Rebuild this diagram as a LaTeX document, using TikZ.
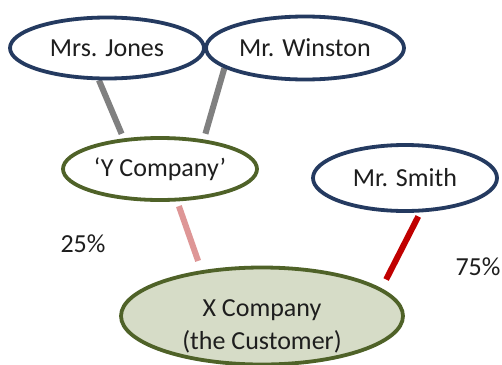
\documentclass[tikz,border=0pt]{standalone}
\usepackage{fontspec}
\setmainfont{Carlito}
\usetikzlibrary{shapes.geometric,backgrounds}
\definecolor{navy}{RGB}{36,58,96}
\definecolor{olive}{RGB}{79,98,40}
\definecolor{sage}{RGB}{214,220,199}
\definecolor{rosy}{RGB}{222,150,150}
\definecolor{darkred}{RGB}{192,0,0}
\definecolor{linegray}{RGB}{128,128,128}
\definecolor{txt}{RGB}{30,30,30}
\begin{document}
\begin{tikzpicture}[x=1pt,y=-1pt,
  bigfont/.style={font=\fontsize{26}{33}\selectfont},
  person/.style={ellipse,draw=navy,line width=3.8pt,fill=white,inner sep=0pt,text=txt,bigfont},
  company/.style={ellipse,draw=olive,line width=3.8pt,fill=white,inner sep=0pt,text=txt,bigfont},
  link/.style={line width=6pt},
  pct/.style={text=txt,bigfont,inner sep=0pt}]
\useasboundingbox (0,0) rectangle (502,364);
\node[person,minimum width=194pt,minimum height=61pt] (jones) at (107,48) {Mrs. Jones};
\node[person,minimum width=198pt,minimum height=63pt] (winston) at (305,48) {Mr. Winston};
\node[company,minimum width=194pt,minimum height=62pt] (y) at (160,169) {‘Y Company’};
\node[person,minimum width=184pt,minimum height=66pt] (smith) at (405,178) {Mr. Smith};
\node[company,fill=sage,minimum width=282pt,minimum height=97pt] (x) at (262,316) {};
\node[pct,align=center] (xtext) at (262,326) {X Company\\(the Customer)};
\node[pct] (p25) at (83,244) {25\%};
\node[pct] (p75) at (478,267) {75\%};
\begin{scope}[on background layer]
\fill[white] (0,0) rectangle (502,364);
\draw[link,linegray,shorten >=5pt] (jones.-104) -- (y.140);
\draw[link,linegray,shorten >=6pt] (winston.-166) -- (y.34.5);
\draw[link,rosy,shorten <=5pt,shorten >=10pt] (y.-62) -- (x.143);
\draw[link,darkred,shorten <=4.5pt,shorten >=10pt] (smith.-66) -- (x.13.7);
\end{scope}
\end{tikzpicture}
\end{document}
